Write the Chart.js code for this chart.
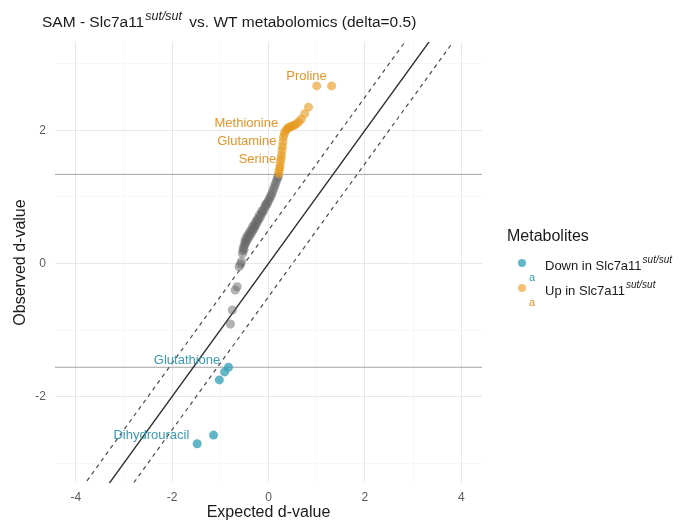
<!DOCTYPE html>
<html>
<head>
<meta charset="utf-8">
<script src="https://cdn.jsdelivr.net/npm/chart.js@4/dist/chart.umd.min.js"></script>
<style>
  html, body { margin: 0; padding: 0; background: #ffffff; }
  #c { display: block; }
</style>
</head>
<body>
<canvas id="c" width="699" height="527"></canvas>
<script>
// SAM analysis: observed vs. expected d-values, Slc7a11 sut/sut vs. WT
const delta = 0.5;
const cutoffUp = 1.34;
const cutoffDown = -1.56;

// Not significant metabolites
const grayExpected = [-0.79, -0.75, -0.69, -0.65, -0.61, -0.58, -0.56, -0.54, -0.53, -0.52,
  -0.51, -0.50, -0.49, -0.48, -0.47, -0.46, -0.44, -0.43, -0.41, -0.40,
  -0.39, -0.37, -0.36, -0.34, -0.33, -0.31, -0.30, -0.29, -0.27, -0.26,
  -0.25, -0.23, -0.22, -0.20, -0.19, -0.17, -0.15, -0.14, -0.12, -0.10,
  -0.08, -0.06, -0.05, -0.03, -0.01, 0.01, 0.03, 0.05, 0.07, 0.09,
  0.11, 0.13, 0.15, 0.17, 0.19, 0.20];
const grayObserved = [-0.91, -0.70, -0.40, -0.35, -0.05, -0.01, 0.03, 0.15, 0.19, 0.24,
  0.21, 0.27, 0.33, 0.30, 0.38, 0.33, 0.36, 0.42, 0.39, 0.46,
  0.42, 0.50, 0.45, 0.48, 0.55, 0.51, 0.58, 0.54, 0.57, 0.63,
  0.60, 0.67, 0.64, 0.67, 0.73, 0.70, 0.74, 0.79, 0.77, 0.80,
  0.84, 0.89, 0.87, 0.90, 0.93, 0.96, 0.99, 1.02, 1.05, 1.09,
  1.13, 1.17, 1.21, 1.25, 1.29, 1.31];

// Up in Slc7a11 sut/sut
const upExpected = [0.21, 0.22, 0.23, 0.24, 0.25, 0.26, 0.27, 0.28, 0.29, 0.30,
  0.31, 0.33, 0.35, 0.38, 0.41, 0.44, 0.47, 0.50, 0.54, 0.58,
  0.63, 0.68, 0.75, 0.83, 1.00, 1.31];
const upObserved = [1.35, 1.39, 1.43, 1.47, 1.53, 1.58, 1.63, 1.70, 1.76, 1.83,
  1.90, 1.95, 1.99, 2.02, 2.04, 2.05, 2.06, 2.07, 2.08, 2.10,
  2.13, 2.17, 2.25, 2.35, 2.67, 2.67];

// Down in Slc7a11 sut/sut
const downExpected = [-1.48, -1.14, -1.02, -0.91, -0.83];
const downObserved = [-2.71, -2.58, -1.75, -1.63, -1.56];

// Named metabolites and where their text sits (data units)
const labelNames = ['Proline', 'Methionine', 'Glutamine', 'Serine', 'Glutathione', 'Dihydrouracil'];
const labelGroup = ['up', 'up', 'up', 'up', 'down', 'down'];
const labelX = [0.79, -0.46, -0.45, -0.23, -1.69, -2.43];
const labelY = [2.82, 2.11, 1.84, 1.57, -1.45, -2.59];

const xTickValues = [-4, -2, 0, 2, 4];
const yTickValues = [-2, 0, 2];

const FONT = '"Liberation Sans", Arial, Helvetica, sans-serif';
const ORANGE_PT = 'rgba(230, 155, 30, 0.62)';
const BLUE_PT = 'rgba(55, 160, 185, 0.78)';
const GRAY_PT = 'rgba(105, 105, 105, 0.5)';
const ORANGE_TXT = '#E3942A';
const BLUE_TXT = '#3A9AB3';

const pts = (xs, ys) => xs.map((v, i) => ({ x: v, y: ys[i] }));
const span = [-10, 10];
const hLine = v => span.map(s => ({ x: s, y: v }));
const dLine = off => span.map(s => ({ x: s, y: s + off }));

const overlay = {
  id: 'overlay',
  afterDatasetsDraw(chart) {
    const { ctx, scales: { x, y } } = chart;
    ctx.save();
    ctx.font = `13px ${FONT}`;
    ctx.textAlign = 'center';
    ctx.textBaseline = 'middle';
    labelNames.forEach((t, i) => {
      ctx.fillStyle = labelGroup[i] === 'up' ? ORANGE_TXT : BLUE_TXT;
      ctx.fillText(t, x.getPixelForValue(labelX[i]), y.getPixelForValue(labelY[i]));
    });
    ctx.restore();
  },
  afterDraw(chart) {
    const { ctx } = chart;
    ctx.save();
    // title with superscript genotype
    ctx.textAlign = 'left';
    ctx.textBaseline = 'alphabetic';
    ctx.fillStyle = '#1a1a1a';
    let tx = 42;
    const ty = 27;
    ctx.font = `15.5px ${FONT}`;
    ctx.fillText('SAM - Slc7a11', tx, ty);
    tx += ctx.measureText('SAM - Slc7a11').width + 1;
    ctx.font = `italic 12.5px ${FONT}`;
    ctx.fillText('sut/sut', tx, ty - 7);
    tx += ctx.measureText('sut/sut').width + 3;
    ctx.font = `15.5px ${FONT}`;
    ctx.fillText(' vs. WT metabolomics (delta=0.5)', tx, ty);

    // legend
    ctx.font = `16px ${FONT}`;
    ctx.fillText('Metabolites', 507, 241);
    const items = [
      { color: BLUE_PT, txt: BLUE_TXT, label: 'Down in Slc7a11', y: 264 },
      { color: ORANGE_PT, txt: ORANGE_TXT, label: 'Up in Slc7a11', y: 289 }
    ];
    items.forEach(it => {
      ctx.beginPath();
      ctx.arc(522, it.y - 1, 4, 0, Math.PI * 2);
      ctx.fillStyle = it.color;
      ctx.fill();
      ctx.fillStyle = it.txt;
      ctx.font = `11px ${FONT}`;
      ctx.textAlign = 'center';
      ctx.fillText('a', 532, it.y + 17);
      ctx.textAlign = 'left';
      ctx.fillStyle = '#1a1a1a';
      ctx.font = `13px ${FONT}`;
      ctx.fillText(it.label, 545, it.y + 6);
      const w = ctx.measureText(it.label).width;
      ctx.font = `italic 10px ${FONT}`;
      ctx.fillText('sut/sut', 545 + w + 1, it.y - 1);
    });
    ctx.restore();
  }
};

const majorX = v => xTickValues.includes(v);
const majorY = v => yTickValues.includes(v);

new Chart(document.getElementById('c'), {
  type: 'scatter',
  data: {
    datasets: [
      { label: 'Down', data: pts(downExpected, downObserved), backgroundColor: BLUE_PT, borderWidth: 0, pointRadius: 4.5 },
      { label: 'Up', data: pts(upExpected, upObserved), backgroundColor: ORANGE_PT, borderWidth: 0, pointRadius: 4.5 },
      { label: 'NS', data: pts(grayExpected, grayObserved), backgroundColor: GRAY_PT, borderWidth: 0, pointRadius: 4.6 },
      { type: 'line', data: dLine(0), borderColor: '#2e2e2e', borderWidth: 1.4, pointRadius: 0 },
      { type: 'line', data: dLine(delta), borderColor: '#4a4a4a', borderWidth: 1.2, borderDash: [4, 4], pointRadius: 0 },
      { type: 'line', data: dLine(-delta), borderColor: '#4a4a4a', borderWidth: 1.2, borderDash: [4, 4], pointRadius: 0 },
      { type: 'line', data: hLine(cutoffUp), borderColor: '#a3a3a3', borderWidth: 1, pointRadius: 0 },
      { type: 'line', data: hLine(cutoffDown), borderColor: '#a3a3a3', borderWidth: 1, pointRadius: 0 }
    ]
  },
  options: {
    responsive: false,
    animation: false,
    events: [],
    layout: { padding: { top: 42, right: 217, left: 0, bottom: 0 } },
    plugins: { legend: { display: false }, tooltip: { enabled: false }, title: { display: false } },
    scales: {
      x: {
        type: 'linear',
        min: -4.43, max: 4.43,
        afterFit: s => { s.height = 44; },
        border: { display: false },
        grid: {
          drawTicks: false,
          color: c => majorX(c.tick.value) ? '#e8e8e8' : '#f3f3f3',
          lineWidth: c => majorX(c.tick.value) ? 1 : 0.7
        },
        ticks: {
          stepSize: 1,
          includeBounds: false,
          autoSkip: false,
          maxRotation: 0,
          padding: 7,
          color: '#5a5a5a',
          font: { family: FONT, size: 12 },
          callback: v => majorX(v) ? String(v) : ''
        },
        title: { display: true, text: 'Expected d-value', color: '#1a1a1a', font: { family: FONT, size: 16 }, padding: { bottom: 5, top: 0 } }
      },
      y: {
        type: 'linear',
        min: -3.3, max: 3.33,
        afterFit: s => { s.width = 55; },
        border: { display: false },
        grid: {
          drawTicks: false,
          color: c => majorY(c.tick.value) ? '#e8e8e8' : '#f3f3f3',
          lineWidth: c => majorY(c.tick.value) ? 1 : 0.7
        },
        ticks: {
          stepSize: 1,
          includeBounds: false,
          autoSkip: false,
          padding: 9,
          color: '#5a5a5a',
          font: { family: FONT, size: 12 },
          callback: v => majorY(v) ? String(v) : ''
        },
        title: { display: true, text: 'Observed d-value', color: '#1a1a1a', font: { family: FONT, size: 16 }, padding: { top: 11, bottom: 0 } }
      }
    }
  },
  plugins: [overlay]
});
</script>
</body>
</html>
